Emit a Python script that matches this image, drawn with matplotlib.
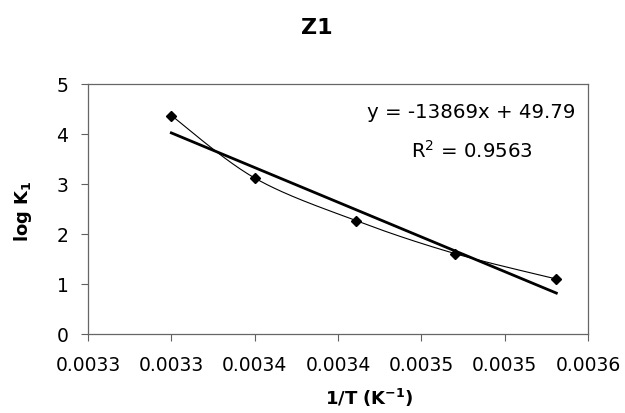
import numpy as np
import matplotlib
matplotlib.use("Agg")
import matplotlib.pyplot as plt

# ---- data ----
inv_T = [0.003300, 0.003350, 0.003411, 0.003470, 0.003531]
log_K1 = [4.37, 3.12, 2.265, 1.61, 1.10]
slope = -13869
intercept = 49.79
r2 = 0.9563
x_ticks = [0.00325, 0.00330, 0.00335, 0.00340, 0.00345, 0.00350, 0.00355]
x_ticklabels = ["0.0033", "0.0033", "0.0034", "0.0034", "0.0035", "0.0035", "0.0036"]
y_ticks = [0, 1, 2, 3, 4, 5]
title = "Z1"
xlabel = "1/T (K$^{-1}$)"
ylabel = "log K$_1$"

plt.rcParams['font.family'] = ['DejaVu Sans']
plt.rcParams['mathtext.default'] = 'regular'

W, H = 625, 414
fig = plt.figure(figsize=(W / 100, H / 100), dpi=100)
L, R, T, B = 88, 588, 85, 335
ax = fig.add_axes([L / W, 1 - B / H, (R - L) / W, (B - T) / H])
ax.set_xlim(x_ticks[0], x_ticks[-1])
ax.set_ylim(y_ticks[0], y_ticks[-1])

# Excel-style smoothed line (Bezier through points, computed in display space)
pts = ax.transData.transform(np.column_stack([inv_T, log_K1]))
n = len(pts)
curve = []
for i in range(n - 1):
    p0 = pts[i - 1] if i > 0 else pts[i]
    p1 = pts[i]
    p2 = pts[i + 1]
    p3 = pts[i + 2] if i + 2 < n else pts[i + 1]
    c1 = p1 + (p2 - p0) / 6.0
    c2 = p2 - (p3 - p1) / 6.0
    t = np.linspace(0, 1, 40)[:, None]
    seg = ((1 - t) ** 3) * p1 + 3 * ((1 - t) ** 2) * t * c1 + 3 * (1 - t) * t ** 2 * c2 + t ** 3 * p2
    curve.append(seg if i == 0 else seg[1:])
curve = np.vstack(curve)
curve_data = ax.transData.inverted().transform(curve)
ax.plot(curve_data[:, 0], curve_data[:, 1], color='black', lw=0.8, zorder=2)
ax.plot(inv_T, log_K1, linestyle='none', marker='D', color='black', markersize=5.2, zorder=3)

# linear trendline
xt = np.array([min(inv_T), max(inv_T)])
ax.plot(xt, slope * xt + intercept, color='black', lw=2.0, zorder=2)

ax.set_xticks(x_ticks)
ax.set_xticklabels(x_ticklabels)
ax.set_yticks(y_ticks)
ax.tick_params(axis='both', direction='out', length=5, width=0.8, color='#606060',
               labelsize=13.5, labelcolor='black')
ax.tick_params(axis='x', pad=10)
ax.tick_params(axis='y', pad=9)
for s in ax.spines.values():
    s.set_color('#666666')
    s.set_linewidth(0.9)

fig.text(317 / W, 1 - 34 / H, title, ha='center', va='baseline', fontsize=16, fontweight='bold')
fig.text(369 / W, 1 - 405 / H, xlabel, ha='center', va='baseline', fontsize=13, fontweight='bold')
fig.text(23 / W, 1 - 211 / H, ylabel, ha='center', va='center', rotation=90, fontsize=13, fontweight='bold')

fig.text(471 / W, 1 - 118.5 / H, f"y = {slope}x + {intercept}", ha='center', va='baseline', fontsize=14.2)
fig.text(472 / W, 1 - 158 / H, f"R$^2$ = {r2}", ha='center', va='baseline', fontsize=14.2)

fig.savefig("out.png", dpi=100)
